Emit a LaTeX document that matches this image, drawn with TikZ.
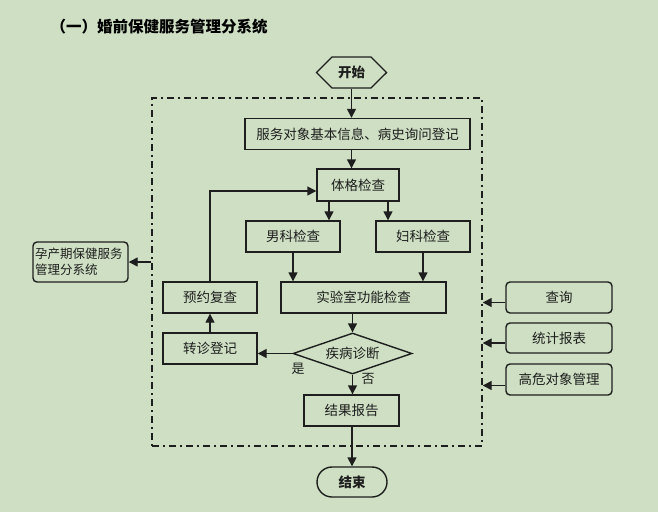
\documentclass[tikz,border=0pt]{standalone}
\usepackage{fontspec}
\setmainfont{Noto Sans CJK SC}
\usetikzlibrary{arrows.meta,shapes.geometric,shapes.symbols}
\definecolor{BGfill}{RGB}{206,223,195}
\definecolor{Ink}{RGB}{30,30,30}

\begin{document}
\begin{tikzpicture}[x=1pt,y=-1pt,line join=miter,
  box/.style={draw=Ink,line width=1.4pt,minimum height=31pt,inner sep=0pt,text=Ink,font=\fontsize{13.5}{14}\selectfont},
  sidebox/.style={box,rounded corners=4pt},
  flow/.style={draw=Ink,line width=1.4pt,-{Triangle[length=9pt,width=9pt]}},
  lbl/.style={inner sep=0pt,text=Ink,font=\fontsize{13}{14}\selectfont}]
\path[use as bounding box,fill=BGfill] (0,0) rectangle (658,512);
\node[inner sep=0pt,font=\bfseries\fontsize{15.5}{16}\selectfont] (title) at (159,27) {（一）婚前保健服务管理分系统};
\node[draw=Ink,line width=1.4pt,dash pattern=on 7pt off 4pt on 2pt off 4pt,minimum width=330pt,minimum height=348pt,inner sep=0pt] (zone) at (317,272) {};
\node[box,shape=signal,signal to=east and west,minimum width=70pt,font=\bfseries\fontsize{13.5}{14}\selectfont] (start) at (351.5,72.5) {开始};
\node[box,minimum width=225pt] (reg) at (357.5,134) {服务对象基本信息、病史询问登记};
\node[box,minimum width=82pt,minimum height=32pt] (body) at (358,185) {体格检查};
\node[box,minimum width=94pt] (male) at (293,236.5) {男科检查};
\node[box,minimum width=94pt] (female) at (423,236.5) {妇科检查};
\node[box,minimum width=165pt] (lab) at (363.5,297.5) {实验室功能检查};
\node[box,minimum width=94pt] (recheck) at (210,297.5) {预约复查};
\node[box,minimum width=94pt] (transfer) at (210,348.5) {转诊登记};
\node[box,shape=diamond,aspect=2.9,minimum width=119pt,minimum height=41pt] (diag) at (352.5,353.5) {疾病诊断};
\node[lbl] (yes) at (298,369) {是};
\node[lbl] (no) at (368,379) {否};
\node[box,minimum width=95pt] (report) at (351.5,410.5) {结果报告};
\node[box,minimum width=70pt,minimum height=30pt,rounded corners=15pt,font=\bfseries\fontsize{13.5}{14}\selectfont] (stop) at (352,482) {结束};
\node[sidebox,minimum width=95pt,minimum height=40pt,text width=91pt,align=left,font=\fontsize{12.5}{16}\selectfont] (mch) at (80.5,262) {孕产期保健服务\\管理分系统};
\node[sidebox,minimum width=106pt] (query) at (559,297.5) {查询};
\node[sidebox,minimum width=106pt,minimum height=30pt] (stats) at (559,338) {统计报表};
\node[sidebox,minimum width=106pt] (risk) at (559,379.5) {高危对象管理};
\draw[flow] (start.south) -- (start.south |- reg.north);
\draw[flow] (reg.south -| start.south) -- (body.north -| start.south);
\draw[flow] ([xshift=-29pt]body.south) -- ([xshift=-29pt]body.south |- male.north);
\draw[flow] ([xshift=30pt]body.south) -- ([xshift=30pt]body.south |- female.north);
\draw[flow] (male.south) -- (male.south |- lab.north);
\draw[flow] (female.south) -- (female.south |- lab.north);
\draw[flow] (lab.south -| diag.north) -- (diag.north);
\draw[flow] (diag.south) -- (diag.south |- report.north);
\draw[flow] (report.south -| stop.north) -- (stop.north);
\draw[flow] (diag.west) -- (diag.west -| transfer.east);
\draw[flow] (transfer.north) -- (recheck.south);
\draw[flow] (recheck.north) |- ([yshift=-6pt]body.west);
\draw[flow] (zone.west |- mch.east) -- (mch.east);
\draw[flow] ([yshift=-5pt]query.west) -- ([yshift=-5pt]query.west -| zone.east);
\draw[flow] ([yshift=-5pt]stats.west) -- ([yshift=-5pt]stats.west -| zone.east);
\draw[flow] ([yshift=-6pt]risk.west) -- ([yshift=-6pt]risk.west -| zone.east);
\end{tikzpicture}
\end{document}
